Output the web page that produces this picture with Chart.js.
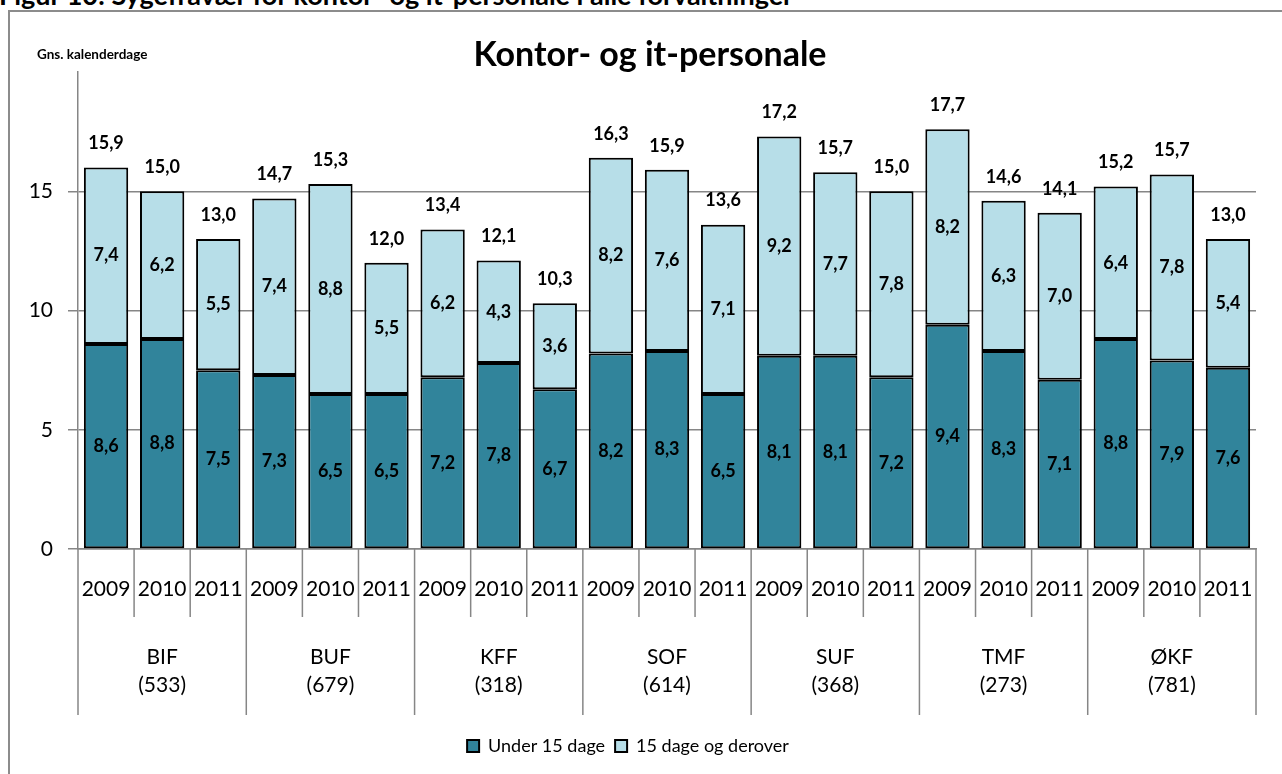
<!DOCTYPE html>
<html>
<head>
<meta charset="utf-8">
<script src="https://cdn.jsdelivr.net/npm/chart.js@4.4.1/dist/chart.umd.min.js"></script>
<style>
    body { margin: 0; background: #fff; overflow: hidden; width: 1282px; height: 774px; position: relative; }
    #caption { position: absolute; left: -1px; top: -19px; font: bold 27px/27px Lato, sans-serif; white-space: nowrap; color: #000; }
    #frame { position: absolute; left: 8px; top: 10px; width: 1400px; height: 900px; border-left: 2px solid #8c8c8c; border-top: 2px solid #8c8c8c; }
    #myChart { position: absolute; left: 0; top: 0; }
</style>
</head>
<body>
<div id="caption">Figur 10: Sygefravær for kontor- og it-personale i alle forvaltninger</div>
<div id="frame"></div>
<canvas id="myChart" width="1282" height="774"></canvas>
<script>
const groups = ['BIF', 'BUF', 'KFF', 'SOF', 'SUF', 'TMF', 'ØKF'];
const groupCounts = ['(533)', '(679)', '(318)', '(614)', '(368)', '(273)', '(781)'];
const years = ['2009', '2010', '2011'];

const under15 = [8.6, 8.8, 7.5, 7.3, 6.5, 6.5, 7.2, 7.8, 6.7, 8.2, 8.3, 6.5, 8.1, 8.1, 7.2, 9.4, 8.3, 7.1, 8.8, 7.9, 7.6];
const over15 = [7.4, 6.2, 5.5, 7.4, 8.8, 5.5, 6.2, 4.3, 3.6, 8.2, 7.6, 7.1, 9.2, 7.7, 7.8, 8.2, 6.3, 7.0, 6.4, 7.8, 5.4];
const totals = [15.9, 15.0, 13.0, 14.7, 15.3, 12.0, 13.4, 12.1, 10.3, 16.3, 15.9, 13.6, 17.2, 15.7, 15.0, 17.7, 14.6, 14.1, 15.2, 15.7, 13.0];

const yTicks = [0, 5, 10, 15];

const labels = [];
groups.forEach(function (g) {
    years.forEach(function (y) { labels.push(g + ' ' + y); });
});

function fmt(v) {
    return v.toFixed(1).replace('.', ',');
}

const gridColor = '#868686';

// texts, data labels and the grouped category axis
const extras = {
    id: 'extras',
    afterDatasetsDraw: function (chart) {
        const ctx = chart.ctx;
        ctx.save();
        ctx.fillStyle = '#000';
        ctx.textAlign = 'center';
        ctx.textBaseline = 'middle';
        ctx.font = 'bold 18px Lato';
        const darkMeta = chart.getDatasetMeta(0);
        const lightMeta = chart.getDatasetMeta(1);
        darkMeta.data.forEach(function (bar, i) {
            ctx.fillText(fmt(under15[i]), bar.x, (bar.y + bar.base) / 2);
        });
        lightMeta.data.forEach(function (bar, i) {
            ctx.fillText(fmt(over15[i]), bar.x, (bar.y + bar.base) / 2);
            ctx.fillText(fmt(totals[i]), bar.x, bar.y - 24);
        });
        ctx.restore();
    },
    afterDraw: function (chart) {
        const ctx = chart.ctx;
        const x = chart.scales.x;
        const top = chart.chartArea.bottom;
        const half = (x.getPixelForValue(1) - x.getPixelForValue(0)) / 2;
        ctx.save();

        ctx.strokeStyle = gridColor;
        ctx.lineWidth = 1.5;
        for (let k = 0; k <= labels.length; k++) {
            const px = x.getPixelForValue(0) - half + k * 2 * half;
            const len = (k % 3 === 0) ? 166 : 68;
            ctx.beginPath();
            ctx.moveTo(px, top);
            ctx.lineTo(px, top + len);
            ctx.stroke();
        }

        ctx.fillStyle = '#000';
        ctx.textAlign = 'center';
        ctx.textBaseline = 'middle';
        ctx.font = '21px Lato';
        labels.forEach(function (l, i) {
            ctx.fillText(years[i % 3], x.getPixelForValue(i), top + 40);
        });
        groups.forEach(function (g, gi) {
            const cx = x.getPixelForValue(gi * 3 + 1);
            ctx.fillText(g, cx, top + 108);
            ctx.fillText(groupCounts[gi], cx, top + 136);
        });

        ctx.textBaseline = 'alphabetic';
        ctx.font = 'bold 34px Lato';
        ctx.fillText('Kontor- og it-personale', 650, 66);
        ctx.textAlign = 'left';
        ctx.textBaseline = 'middle';
        ctx.font = 'bold 13.5px Lato';
        ctx.fillText('Gns. kalenderdage', 37, 55);
        ctx.restore();
    }
};

const ctx = document.getElementById('myChart').getContext('2d');

const myChart = new Chart(ctx, {
    type: 'bar',
    data: {
        labels: labels,
        datasets: [{
            label: 'Under 15 dage',
            data: under15,
            backgroundColor: '#31849B',
            borderColor: '#000',
            borderWidth: 2,
            borderSkipped: false,
            barPercentage: 0.79,
            categoryPercentage: 1
        }, {
            label: '15 dage og derover',
            data: over15,
            backgroundColor: '#B7DEE8',
            borderColor: '#000',
            borderWidth: 2,
            borderSkipped: false,
            barPercentage: 0.79,
            categoryPercentage: 1
        }]
    },
    options: {
        responsive: false,
        animation: false,
        layout: {
            padding: { top: 72, right: 26, bottom: 9, left: 0 }
        },
        scales: {
            x: {
                stacked: true,
                grid: { display: false },
                border: { color: gridColor, width: 1.5 },
                ticks: { display: false },
                afterFit: function (scale) { scale.height = 178; }
            },
            y: {
                stacked: true,
                min: 0,
                max: 20,
                afterBuildTicks: function (scale) {
                    scale.ticks = yTicks.map(function (v) { return { value: v }; });
                },
                grid: { color: gridColor, lineWidth: 1.5, tickLength: 10 },
                border: { color: gridColor, width: 1.5 },
                ticks: {
                    color: '#000',
                    font: { family: 'Lato', size: 21 },
                    padding: 15
                },
                afterFit: function (scale) { scale.width = 78; }
            }
        },
        plugins: {
            legend: {
                position: 'bottom',
                labels: {
                    color: '#000',
                    font: { family: 'Lato', size: 18 },
                    boxWidth: 12,
                    boxHeight: 12,
                    padding: 10
                }
            },
            tooltip: { enabled: false }
        }
    },
    plugins: [extras]
});
</script>
</body>
</html>
